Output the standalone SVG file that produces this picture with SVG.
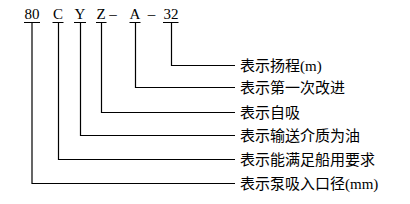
<svg xmlns="http://www.w3.org/2000/svg" width="410" height="204" viewBox="0 0 410 204">
<style>
.code{font-family:"Liberation Serif","Noto Sans CJK SC",serif;font-size:15px;fill:#000;text-anchor:middle}
.lbl{font-family:"Liberation Serif","Noto Sans CJK SC",serif;font-size:15px;fill:#000}
.ln{fill:none;stroke:#000;stroke-width:1.2}
</style>
<rect width="410" height="204" fill="#fff"/>
<g id="code">
<text class="code" x="32" y="19">80</text>
<text class="code" x="58" y="19">C</text>
<text class="code" x="80" y="19">Y</text>
<text class="code" x="101" y="19">Z</text>
<text class="code" x="113" y="19">–</text>
<text class="code" x="135" y="19">A</text>
<text class="code" x="151.5" y="19">–</text>
<text class="code" x="171" y="19">32</text>
</g>
<g id="connectors">
<path class="ln" d="M24 22.5H40M32 22.5V183.5H235"/>
<path class="ln" d="M52.5 22.5H63.5M58.5 22.5V159.5H235"/>
<path class="ln" d="M74 22.5H86M80.5 22.5V135.5H235"/>
<path class="ln" d="M96 22.5H106.5M101.5 22.5V112.5H235"/>
<path class="ln" d="M129.5 22.5H140.5M135.5 22.5V87.5H235"/>
<path class="ln" d="M163 22.5H178.5M171.5 22.5V65.5H235"/>
</g>
<g id="n1"><text class="lbl" x="240" y="71">表示扬程(m)</text></g>
<g id="n2"><text class="lbl" x="240" y="93">表示第一次改进</text></g>
<g id="n3"><text class="lbl" x="240" y="118">表示自吸</text></g>
<g id="n4"><text class="lbl" x="240" y="141">表示输送介质为油</text></g>
<g id="n5"><text class="lbl" x="240" y="165">表示能满足船用要求</text></g>
<g id="n6"><text class="lbl" x="240" y="189">表示泵吸入口径(mm)</text></g>
</svg>
